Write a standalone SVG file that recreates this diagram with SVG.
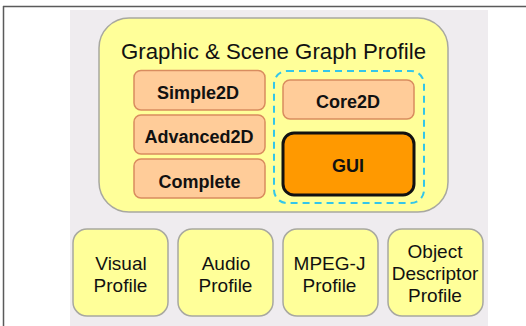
<svg xmlns="http://www.w3.org/2000/svg" width="526" height="326" viewBox="0 0 526 326">
<style>
.txt{font-family:"Liberation Sans",Arial,sans-serif;fill:#111;text-anchor:middle}
.b{font-weight:bold;font-size:18px}
.r{font-size:19px}
.sub{fill:#ffcc99;stroke:#d98c5f;stroke-width:1.5}
.prof{fill:#ffff99;stroke:#a8a8a0;stroke-width:1.5}
</style>
<rect x="0" y="0" width="526" height="326" fill="#ffffff"/>
<line x1="3" y1="6.5" x2="526" y2="6.5" stroke="#5a5a5a" stroke-width="1.5"/>
<line x1="3.5" y1="6" x2="3.5" y2="326" stroke="#5a5a5a" stroke-width="1.5"/>
<rect x="70" y="10" width="418" height="316" fill="#efecef"/>
<g id="graphic-scene">
<rect class="prof" x="99" y="18" width="349" height="194" rx="30"/>
<text class="txt" x="273.5" y="59" font-size="21.5" textLength="305" lengthAdjust="spacingAndGlyphs">Graphic &amp; Scene Graph Profile</text>
</g>
<g id="simple2d">
<rect class="sub" x="134" y="70.5" width="131" height="39.5" rx="7"/>
<text class="txt b" x="198" y="99">Simple2D</text>
</g>
<g id="advanced2d">
<rect class="sub" x="134" y="115" width="131" height="39" rx="7"/>
<text class="txt b" x="199" y="143">Advanced2D</text>
</g>
<g id="complete">
<rect class="sub" x="134" y="159" width="131" height="39" rx="7"/>
<text class="txt b" x="199.5" y="188">Complete</text>
</g>
<g id="group-dashed">
<rect x="274" y="71" width="150" height="132" rx="13" fill="none" stroke="#33c6ea" stroke-width="2" stroke-dasharray="7,5"/>
</g>
<g id="core2d">
<rect class="sub" x="283" y="80" width="131" height="39" rx="7"/>
<text class="txt b" x="348" y="108">Core2D</text>
</g>
<g id="gui">
<rect x="283" y="133" width="131" height="62" rx="11" fill="#ff9900" stroke="#111" stroke-width="3"/>
<text class="txt b" x="348" y="172">GUI</text>
</g>
<g id="visual">
<rect class="prof" x="73" y="229" width="95" height="87" rx="14"/>
<text class="txt r" x="121" y="270">Visual</text>
<text class="txt r" x="120.5" y="292">Profile</text>
</g>
<g id="audio">
<rect class="prof" x="178" y="229" width="95" height="87" rx="14"/>
<text class="txt r" x="226" y="270">Audio</text>
<text class="txt r" x="225.5" y="292">Profile</text>
</g>
<g id="mpegj">
<rect class="prof" x="283" y="229" width="95" height="87" rx="14"/>
<text class="txt r" x="329.5" y="270">MPEG-J</text>
<text class="txt r" x="329.5" y="292">Profile</text>
</g>
<g id="object-descriptor">
<rect class="prof" x="388" y="229" width="95" height="87" rx="14"/>
<text class="txt r" x="435" y="258">Object</text>
<text class="txt r" x="435" y="280">Descriptor</text>
<text class="txt r" x="435" y="302">Profile</text>
</g>
<g id="connectors"></g>
</svg>
